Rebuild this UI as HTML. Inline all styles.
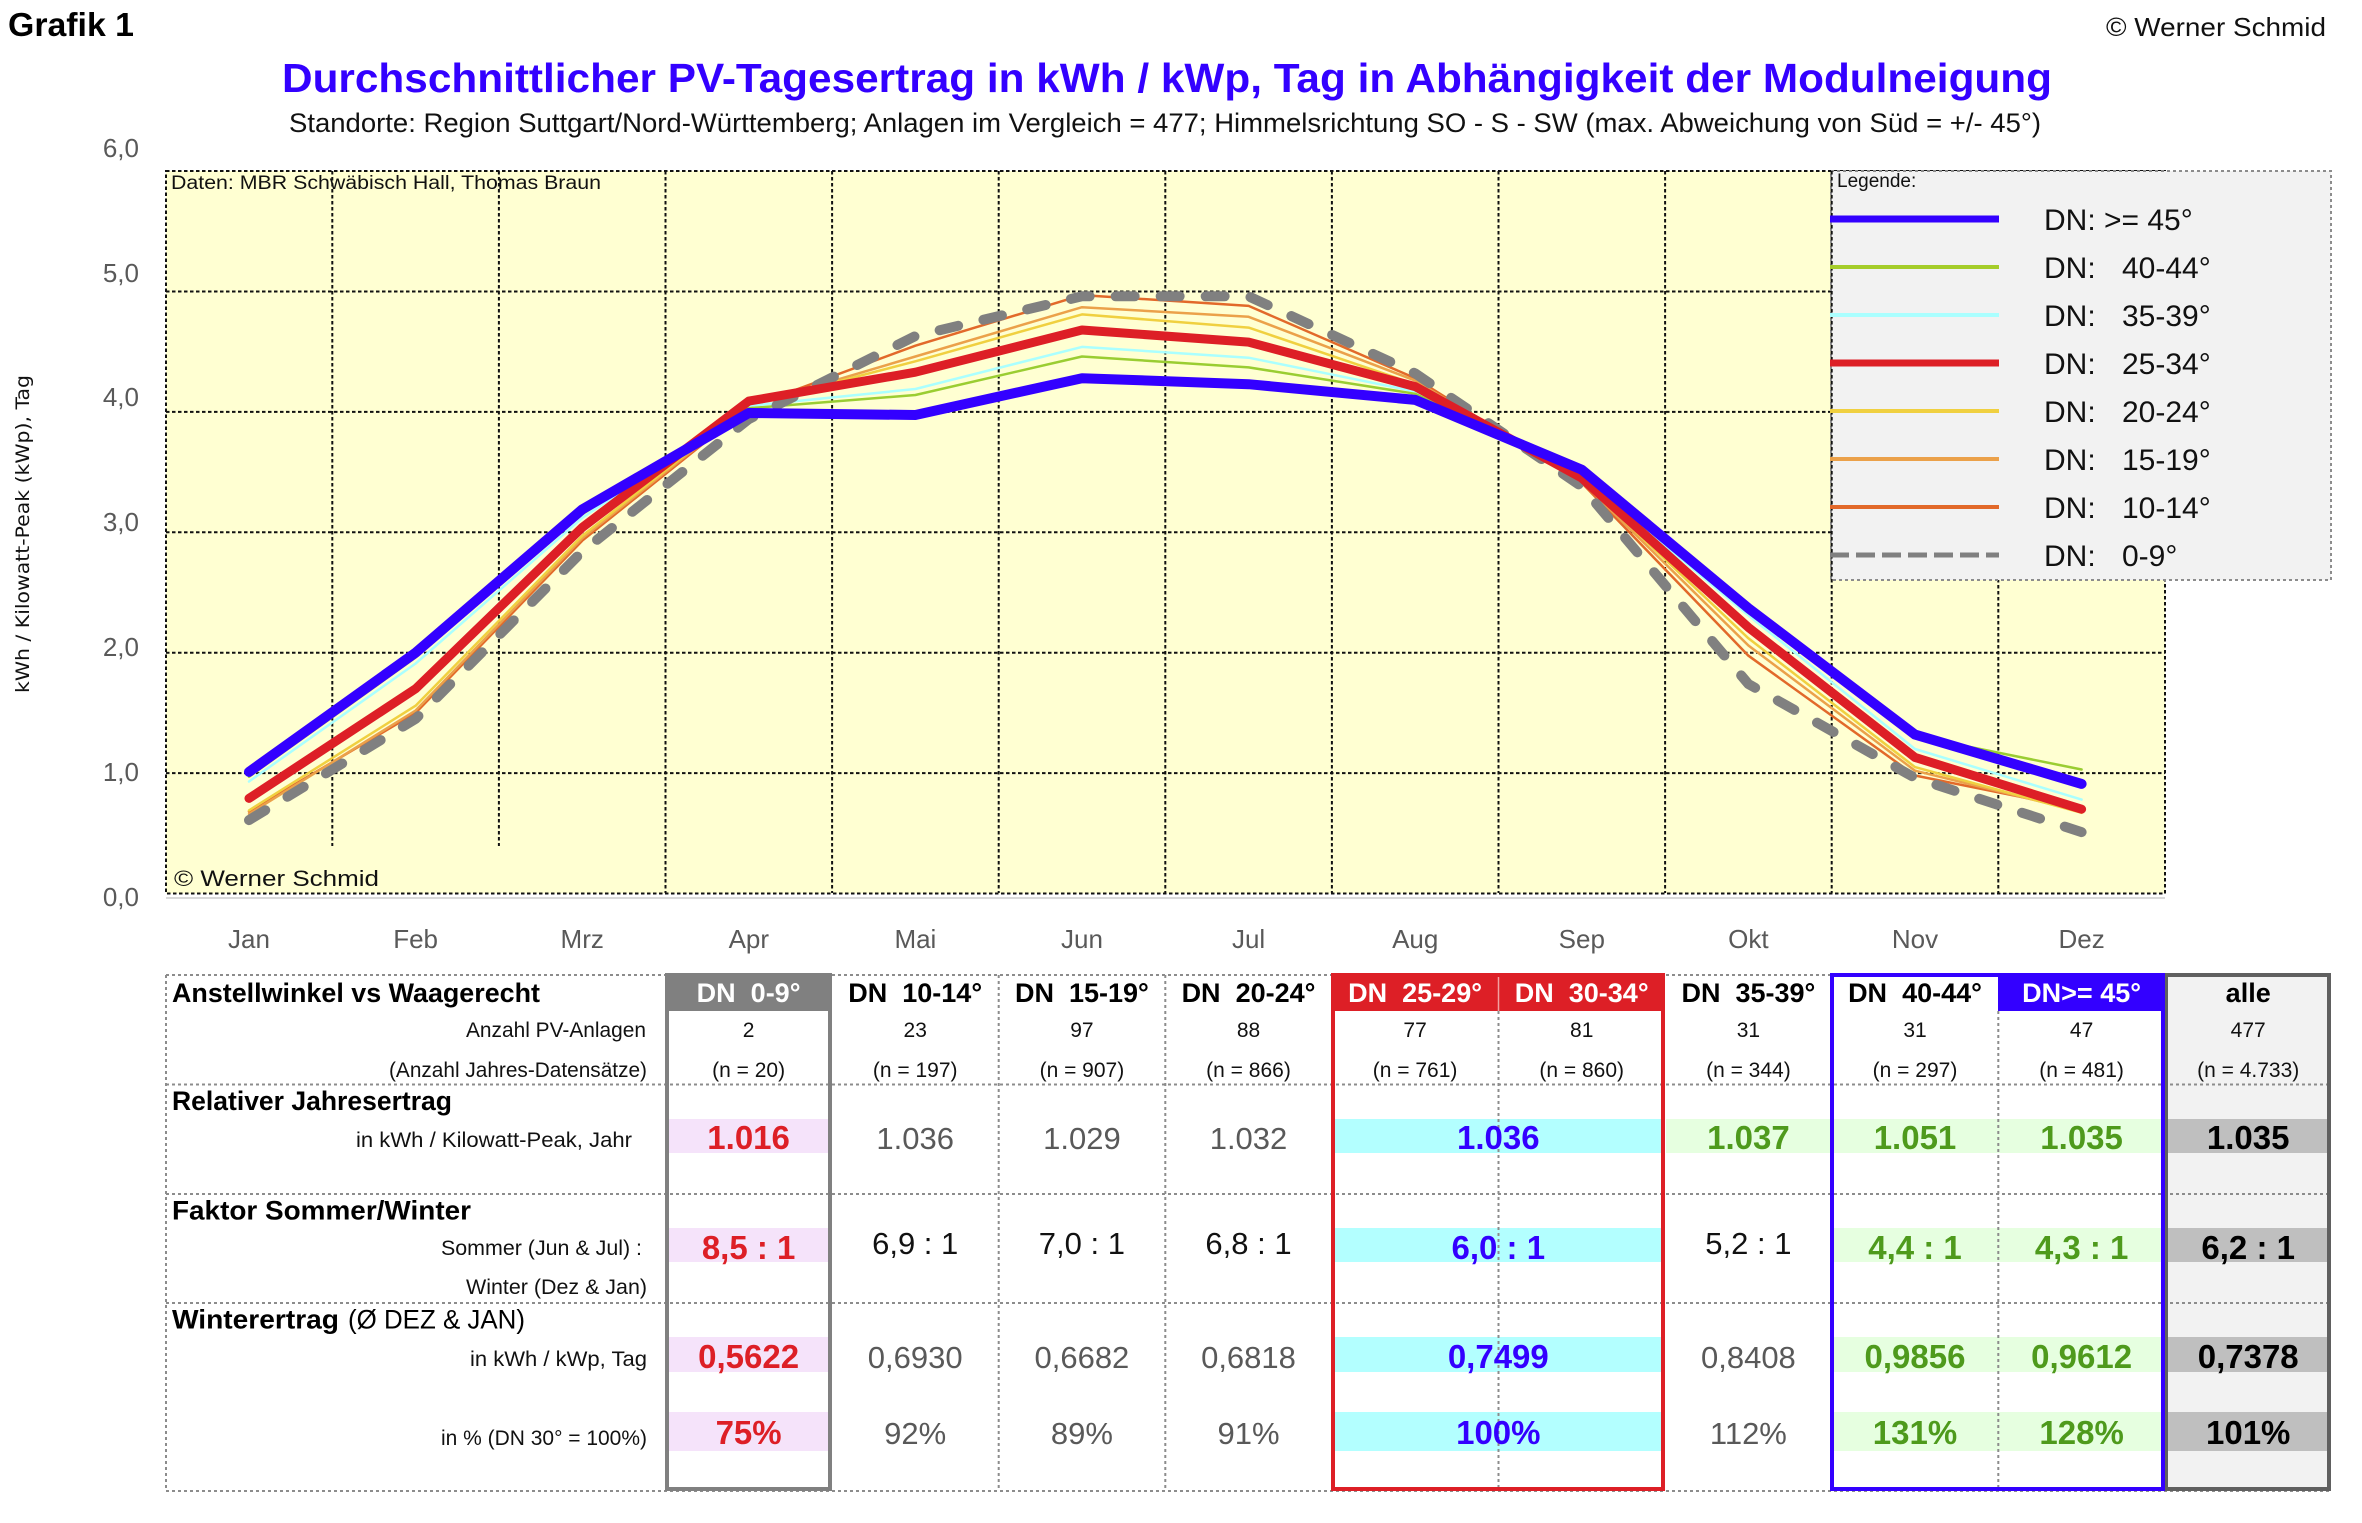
<!DOCTYPE html>
<html><head><meta charset="utf-8">
<style>
html,body{margin:0;padding:0;background:#fff;}
svg{display:block;}
text{font-family:"Liberation Sans",sans-serif;white-space:pre;}
.b{font-weight:bold;}
.lbl{font-size:21px;fill:#111;}
.hd{font-size:27px;font-weight:bold;}
.cnt{font-size:21px;fill:#111;}
.vr{font-size:31px;fill:#595959;}
.vk{font-size:31px;fill:#111;}
.vb{font-size:33px;font-weight:bold;}
.mon{font-size:26px;fill:#595959;}
.yl{font-size:26px;fill:#595959;}
.lg{font-size:30px;fill:#111;}
</style></head>
<body>
<svg width="2362" height="1523" viewBox="0 0 2362 1523" xmlns="http://www.w3.org/2000/svg">
<rect width="2362" height="1523" fill="#fff"/>

<!-- Header texts -->
<text x="8" y="36" class="b" font-size="33" textLength="126" lengthAdjust="spacingAndGlyphs" fill="#000">Grafik 1</text>
<text x="2106" y="36" font-size="26" textLength="220" lengthAdjust="spacingAndGlyphs" fill="#111">© Werner Schmid</text>
<text x="282" y="92" class="b" font-size="41" fill="#3300ff" textLength="1770" lengthAdjust="spacingAndGlyphs">Durchschnittlicher PV-Tagesertrag in kWh / kWp, Tag in Abhängigkeit der Modulneigung</text>
<text x="289" y="132" font-size="27" fill="#111" textLength="1752" lengthAdjust="spacingAndGlyphs">Standorte: Region Suttgart/Nord-Württemberg; Anlagen im Vergleich = 477; Himmelsrichtung SO - S - SW (max. Abweichung von Süd = +/- 45°)</text>

<!-- Y axis title -->
<text transform="translate(29,534) rotate(-90)" text-anchor="middle" font-family="DejaVu Sans, sans-serif" font-size="19" textLength="318" lengthAdjust="spacingAndGlyphs" fill="#111" style="font-family:'DejaVu Sans',sans-serif">kWh / Kilowatt-Peak (kWp), Tag</text>

<!-- Y labels -->
<g class="yl" text-anchor="end">
<text x="139" y="157" class="yl">6,0</text>
<text x="139" y="282" class="yl">5,0</text>
<text x="139" y="406" class="yl">4,0</text>
<text x="139" y="531" class="yl">3,0</text>
<text x="139" y="656" class="yl">2,0</text>
<text x="139" y="781" class="yl">1,0</text>
<text x="139" y="906" class="yl">0,0</text>
</g>

<!-- Plot area -->
<rect x="166" y="171" width="1999" height="722.5" fill="#ffffd2"/>
<g stroke="#111" stroke-width="2" stroke-dasharray="3.5 2.5" fill="none">
<line x1="166" y1="291.5" x2="2165" y2="291.5"/>
<line x1="166" y1="411.9" x2="2165" y2="411.9"/>
<line x1="166" y1="532.3" x2="2165" y2="532.3"/>
<line x1="166" y1="652.7" x2="2165" y2="652.7"/>
<line x1="166" y1="773.1" x2="2165" y2="773.1"/>
<line x1="332.3" y1="171" x2="332.3" y2="846"/>
<line x1="498.9" y1="171" x2="498.9" y2="846"/>
<line x1="665.5" y1="171" x2="665.5" y2="893"/>
<line x1="832.1" y1="171" x2="832.1" y2="893"/>
<line x1="998.7" y1="171" x2="998.7" y2="893"/>
<line x1="1165.3" y1="171" x2="1165.3" y2="893"/>
<line x1="1331.9" y1="171" x2="1331.9" y2="893"/>
<line x1="1498.5" y1="171" x2="1498.5" y2="893"/>
<line x1="1665.1" y1="171" x2="1665.1" y2="893"/>
<line x1="1831.7" y1="171" x2="1831.7" y2="893"/>
<line x1="1998.3" y1="171" x2="1998.3" y2="893"/>
<rect x="166" y="171" width="1999" height="722.5"/>
</g>
<line x1="166" y1="898" x2="2165" y2="898" stroke="#d9d9d9" stroke-width="2"/>
<text x="171" y="189" font-size="19" textLength="430" lengthAdjust="spacingAndGlyphs" fill="#111">Daten: MBR Schwäbisch Hall, Thomas Braun</text>
<text x="174" y="886" font-size="22" fill="#111" textLength="205" lengthAdjust="spacingAndGlyphs">© Werner Schmid</text>

<!-- Series -->
<g fill="none" stroke-linejoin="round" stroke-linecap="round">
<polyline stroke="#e2692a" stroke-width="2.5" points="249,811.6 415.6,712.9 582.2,540.7 748.8,407.1 915.4,345.7 1082,295.1 1248.6,305.9 1415.2,378.2 1581.8,482.9 1748.4,655.7 1915,775.5 2081.6,809.2"/>
<polyline stroke="#eba14a" stroke-width="2.5" points="249,814 415.6,710.5 582.2,538.3 748.8,405.9 915.4,356.5 1082,307.2 1248.6,316.8 1415.2,380.6 1581.8,481.7 1748.4,645.5 1915,770.7 2081.6,811.6"/>
<polyline stroke="#f0d040" stroke-width="2.5" points="249,810.4 415.6,705.7 582.2,535.9 748.8,404.7 915.4,361.3 1082,314.4 1248.6,327.6 1415.2,384.2 1581.8,480.5 1748.4,638.3 1915,767.1 2081.6,812.8"/>
<polyline stroke="#aaffff" stroke-width="2.5" points="249,781.5 415.6,663.5 582.2,517.9 748.8,405.9 915.4,389 1082,346.9 1248.6,357.7 1415.2,391.4 1581.8,475.7 1748.4,615.4 1915,749 2081.6,799.6"/>
<polyline stroke="#9acd32" stroke-width="2.5" points="249,776.7 415.6,657.5 582.2,514.2 748.8,408.3 915.4,395 1082,356.5 1248.6,367.4 1415.2,393.8 1581.8,474.5 1748.4,613 1915,735.8 2081.6,769.5"/>
<polyline stroke="#808080" stroke-width="10" stroke-dasharray="19 26" points="249,820.1 415.6,718.9 582.2,551.6 748.8,419.1 915.4,336 1082,296.3 1248.6,296.3 1415.2,373.4 1581.8,486.5 1748.4,684 1915,777.9 2081.6,832.1"/>
<polyline stroke="#dd1f26" stroke-width="9" points="249,798.4 415.6,688.8 582.2,527.5 748.8,401.1 915.4,372.2 1082,330 1248.6,342.1 1415.2,386.6 1581.8,478.1 1748.4,627.4 1915,757.4 2081.6,809.2"/>
<polyline stroke="#3300ff" stroke-width="10" points="249,771.9 415.6,652.7 582.2,509.4 748.8,413 915.4,415 1082,378.2 1248.6,384.2 1415.2,399.9 1581.8,469.7 1748.4,608.2 1915,734.6 2081.6,783.9"/>
</g>

<!-- Legend -->
<rect x="1831" y="171" width="500" height="409" fill="#f2f2f2" stroke="#8c8c8c" stroke-width="2" stroke-dasharray="3 3"/>
<line x1="1831.7" y1="171" x2="1831.7" y2="580" stroke="#111" stroke-width="2" stroke-dasharray="3.5 2.5"/>
<text x="1837" y="187" font-size="19" fill="#111">Legende:</text>
<g stroke-width="4">
<line x1="1830" y1="219" x2="1999" y2="219" stroke="#3300ff" stroke-width="7"/>
<line x1="1830" y1="267" x2="1999" y2="267" stroke="#a5cd2a"/>
<line x1="1830" y1="315" x2="1999" y2="315" stroke="#aaffff"/>
<line x1="1830" y1="363" x2="1999" y2="363" stroke="#dd1f26" stroke-width="7"/>
<line x1="1830" y1="411" x2="1999" y2="411" stroke="#f0d040"/>
<line x1="1830" y1="459" x2="1999" y2="459" stroke="#eba14a"/>
<line x1="1830" y1="507" x2="1999" y2="507" stroke="#e2692a"/>
<line x1="1830" y1="555" x2="1999" y2="555" stroke="#808080" stroke-width="5" stroke-dasharray="19 7"/>
</g>
<g class="lg">
<text x="2044" y="230" class="lg">DN: &gt;= 45°</text>
<text x="2044" y="278" class="lg">DN:</text><text x="2122" y="278" class="lg">40-44°</text>
<text x="2044" y="326" class="lg">DN:</text><text x="2122" y="326" class="lg">35-39°</text>
<text x="2044" y="374" class="lg">DN:</text><text x="2122" y="374" class="lg">25-34°</text>
<text x="2044" y="422" class="lg">DN:</text><text x="2122" y="422" class="lg">20-24°</text>
<text x="2044" y="470" class="lg">DN:</text><text x="2122" y="470" class="lg">15-19°</text>
<text x="2044" y="518" class="lg">DN:</text><text x="2122" y="518" class="lg">10-14°</text>
<text x="2044" y="566" class="lg">DN:</text><text x="2122" y="566" class="lg">0-9°</text>
</g>

<!-- Month labels -->
<g text-anchor="middle">
<text x="249" y="948" class="mon">Jan</text>
<text x="415.6" y="948" class="mon">Feb</text>
<text x="582.2" y="948" class="mon">Mrz</text>
<text x="748.8" y="948" class="mon">Apr</text>
<text x="915.4" y="948" class="mon">Mai</text>
<text x="1082" y="948" class="mon">Jun</text>
<text x="1248.6" y="948" class="mon">Jul</text>
<text x="1415.2" y="948" class="mon">Aug</text>
<text x="1581.8" y="948" class="mon">Sep</text>
<text x="1748.4" y="948" class="mon">Okt</text>
<text x="1915" y="948" class="mon">Nov</text>
<text x="2081.6" y="948" class="mon">Dez</text>
</g>

<!-- TABLE -->
<!-- alle background -->
<rect x="2165" y="973" width="166" height="518" fill="#f2f2f2"/>
<!-- header fills -->
<rect x="665" y="973" width="167" height="38" fill="#808080"/>
<rect x="1331" y="973" width="334" height="38" fill="#dd1f26"/>
<rect x="1998" y="973" width="167" height="38" fill="#3300ff"/>
<line x1="1498.5" y1="975" x2="1498.5" y2="1011" stroke="#f3a0a0" stroke-width="1.5"/>

<!-- bands -->
<g>
<rect x="667" y="1119" width="161" height="34" fill="#f5e3fa"/>
<rect x="667" y="1228" width="161" height="34" fill="#f5e3fa"/>
<rect x="667" y="1337" width="161" height="35" fill="#f5e3fa"/>
<rect x="667" y="1412" width="161" height="39" fill="#f5e3fa"/>
<rect x="1333" y="1119" width="329" height="34" fill="#b3ffff"/>
<rect x="1333" y="1228" width="329" height="34" fill="#b3ffff"/>
<rect x="1333" y="1337" width="329" height="35" fill="#b3ffff"/>
<rect x="1333" y="1412" width="329" height="39" fill="#b3ffff"/>
<rect x="1666" y="1119" width="164" height="34" fill="#e6ffe0"/>
<rect x="1832" y="1119" width="331" height="34" fill="#e6ffe0"/>
<rect x="1832" y="1228" width="331" height="34" fill="#e6ffe0"/>
<rect x="1832" y="1337" width="331" height="35" fill="#e6ffe0"/>
<rect x="1832" y="1412" width="331" height="39" fill="#e6ffe0"/>
<rect x="2166" y="1119" width="162" height="34" fill="#bfbfbf"/>
<rect x="2166" y="1228" width="162" height="34" fill="#bfbfbf"/>
<rect x="2166" y="1337" width="162" height="35" fill="#bfbfbf"/>
<rect x="2166" y="1412" width="162" height="39" fill="#bfbfbf"/>
</g>

<!-- dotted table lines -->
<g stroke="#8c8c8c" stroke-width="2" stroke-dasharray="3 3" fill="none">
<line x1="166" y1="975" x2="2331" y2="975"/>
<line x1="166" y1="1084.5" x2="2331" y2="1084.5"/>
<line x1="166" y1="1194" x2="2331" y2="1194"/>
<line x1="166" y1="1303" x2="2331" y2="1303"/>
<line x1="166" y1="1491" x2="2331" y2="1491"/>
<line x1="166" y1="975" x2="166" y2="1491"/>
<line x1="998.7" y1="975" x2="998.7" y2="1491"/>
<line x1="1165.3" y1="975" x2="1165.3" y2="1491"/>
<line x1="1498.5" y1="1011" x2="1498.5" y2="1491"/>
<line x1="1998.3" y1="1011" x2="1998.3" y2="1491"/>
</g>

<!-- boxes -->
<rect x="667" y="975" width="163" height="514" fill="none" stroke="#808080" stroke-width="4"/>
<rect x="1333" y="975" width="330" height="514" fill="none" stroke="#dd1f26" stroke-width="4"/>
<rect x="2166" y="975" width="163" height="514" fill="none" stroke="#606060" stroke-width="4"/>
<rect x="1832" y="975" width="331" height="514" fill="none" stroke="#3300ff" stroke-width="4"/>

<!-- row titles -->
<text x="172" y="1002" class="b" font-size="27" fill="#000" textLength="368" lengthAdjust="spacingAndGlyphs">Anstellwinkel vs Waagerecht</text>
<text x="172" y="1110" class="b" font-size="27" fill="#000" textLength="280" lengthAdjust="spacingAndGlyphs">Relativer Jahresertrag</text>
<text x="172" y="1219.5" class="b" font-size="27" fill="#000" textLength="299" lengthAdjust="spacingAndGlyphs">Faktor Sommer/Winter</text>
<text x="172" y="1328.6" class="b" font-size="27" fill="#000" textLength="167" lengthAdjust="spacingAndGlyphs">Winterertrag</text>
<text x="348" y="1328.6" font-size="27" fill="#000" textLength="177" lengthAdjust="spacingAndGlyphs">(Ø DEZ &amp; JAN)</text>

<!-- row labels -->
<text x="466" y="1037" class="lbl" textLength="180" lengthAdjust="spacingAndGlyphs">Anzahl PV-Anlagen</text>
<text x="389" y="1077" class="lbl" textLength="258" lengthAdjust="spacingAndGlyphs">(Anzahl Jahres-Datensätze)</text>
<text x="356" y="1147" class="lbl" textLength="276" lengthAdjust="spacingAndGlyphs">in kWh / Kilowatt-Peak, Jahr</text>
<text x="441" y="1255" class="lbl" textLength="201" lengthAdjust="spacingAndGlyphs">Sommer (Jun &amp; Jul) :</text>
<text x="466" y="1294" class="lbl" textLength="181" lengthAdjust="spacingAndGlyphs">Winter (Dez &amp; Jan)</text>
<text x="470" y="1366" class="lbl" textLength="177" lengthAdjust="spacingAndGlyphs">in kWh / kWp, Tag</text>
<text x="441" y="1445" class="lbl" textLength="206" lengthAdjust="spacingAndGlyphs">in % (DN 30° = 100%)</text>

<!-- headers -->
<g text-anchor="middle">
<text x="748.6" y="1002" class="hd" fill="#fff">DN  0-9°</text>
<text x="915.2" y="1002" class="hd" fill="#000">DN  10-14°</text>
<text x="1081.9" y="1002" class="hd" fill="#000">DN  15-19°</text>
<text x="1248.5" y="1002" class="hd" fill="#000">DN  20-24°</text>
<text x="1415.1" y="1002" class="hd" fill="#fff">DN  25-29°</text>
<text x="1581.7" y="1002" class="hd" fill="#fff">DN  30-34°</text>
<text x="1748.4" y="1002" class="hd" fill="#000">DN  35-39°</text>
<text x="1915" y="1002" class="hd" fill="#000">DN  40-44°</text>
<text x="2081.6" y="1002" class="hd" fill="#fff">DN&gt;= 45°</text>
<text x="2248.2" y="1002" class="hd" fill="#000">alle</text>

<text x="748.6" y="1037" class="cnt">2</text>
<text x="915.2" y="1037" class="cnt">23</text>
<text x="1081.9" y="1037" class="cnt">97</text>
<text x="1248.5" y="1037" class="cnt">88</text>
<text x="1415.1" y="1037" class="cnt">77</text>
<text x="1581.7" y="1037" class="cnt">81</text>
<text x="1748.4" y="1037" class="cnt">31</text>
<text x="1915" y="1037" class="cnt">31</text>
<text x="2081.6" y="1037" class="cnt">47</text>
<text x="2248.2" y="1037" class="cnt">477</text>

<text x="748.6" y="1077" class="cnt">(n = 20)</text>
<text x="915.2" y="1077" class="cnt">(n = 197)</text>
<text x="1081.9" y="1077" class="cnt">(n = 907)</text>
<text x="1248.5" y="1077" class="cnt">(n = 866)</text>
<text x="1415.1" y="1077" class="cnt">(n = 761)</text>
<text x="1581.7" y="1077" class="cnt">(n = 860)</text>
<text x="1748.4" y="1077" class="cnt">(n = 344)</text>
<text x="1915" y="1077" class="cnt">(n = 297)</text>
<text x="2081.6" y="1077" class="cnt">(n = 481)</text>
<text x="2248.2" y="1077" class="cnt">(n = 4.733)</text>

<!-- Row 2 -->
<text x="748.6" y="1149" class="vb" fill="#dd1f26">1.016</text>
<text x="915.2" y="1149" class="vr">1.036</text>
<text x="1081.9" y="1149" class="vr">1.029</text>
<text x="1248.5" y="1149" class="vr">1.032</text>
<text x="1498.3" y="1149" class="vb" fill="#3300ff">1.036</text>
<text x="1748.4" y="1149" class="vb" fill="#4e9a1c">1.037</text>
<text x="1915" y="1149" class="vb" fill="#4e9a1c">1.051</text>
<text x="2081.6" y="1149" class="vb" fill="#4e9a1c">1.035</text>
<text x="2248.2" y="1149" class="vb" fill="#000">1.035</text>

<!-- Row 3 -->
<text x="748.6" y="1259" class="vb" fill="#dd1f26">8,5 : 1</text>
<text x="915.2" y="1254" class="vk">6,9 : 1</text>
<text x="1081.9" y="1254" class="vk">7,0 : 1</text>
<text x="1248.5" y="1254" class="vk">6,8 : 1</text>
<text x="1498.3" y="1259" class="vb" fill="#3300ff">6,0 : 1</text>
<text x="1748.4" y="1254" class="vk">5,2 : 1</text>
<text x="1915" y="1259" class="vb" fill="#4e9a1c">4,4 : 1</text>
<text x="2081.6" y="1259" class="vb" fill="#4e9a1c">4,3 : 1</text>
<text x="2248.2" y="1259" class="vb" fill="#000">6,2 : 1</text>

<!-- Row 4a -->
<text x="748.6" y="1368" class="vb" fill="#dd1f26">0,5622</text>
<text x="915.2" y="1368" class="vr">0,6930</text>
<text x="1081.9" y="1368" class="vr">0,6682</text>
<text x="1248.5" y="1368" class="vr">0,6818</text>
<text x="1498.3" y="1368" class="vb" fill="#3300ff">0,7499</text>
<text x="1748.4" y="1368" class="vr">0,8408</text>
<text x="1915" y="1368" class="vb" fill="#4e9a1c">0,9856</text>
<text x="2081.6" y="1368" class="vb" fill="#4e9a1c">0,9612</text>
<text x="2248.2" y="1368" class="vb" fill="#000">0,7378</text>

<!-- Row 4b -->
<text x="748.6" y="1444" class="vb" fill="#dd1f26">75%</text>
<text x="915.2" y="1444" class="vr">92%</text>
<text x="1081.9" y="1444" class="vr">89%</text>
<text x="1248.5" y="1444" class="vr">91%</text>
<text x="1498.3" y="1444" class="vb" fill="#3300ff">100%</text>
<text x="1748.4" y="1444" class="vr">112%</text>
<text x="1915" y="1444" class="vb" fill="#4e9a1c">131%</text>
<text x="2081.6" y="1444" class="vb" fill="#4e9a1c">128%</text>
<text x="2248.2" y="1444" class="vb" fill="#000">101%</text>
</g>
</svg>
</body></html>
